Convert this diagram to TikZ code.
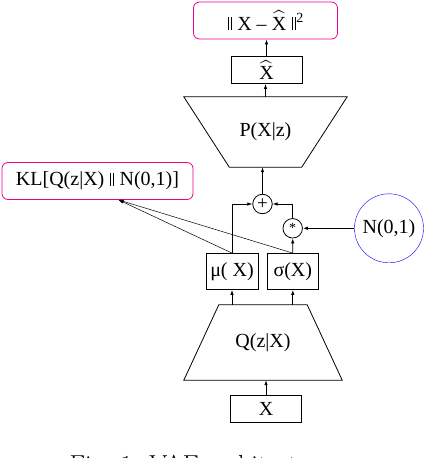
\documentclass[tikz,border=0pt]{standalone}
\usepackage{amsmath}
\usepackage{fontspec}
\setmainfont{Liberation Serif}
\newfontfamily\capfont{Latin Modern Roman}
\usetikzlibrary{arrows.meta,positioning,shapes.geometric}

\newcommand{\nrm}{\kern1pt\rule{0.7pt}{13.2pt}\kern1.8pt\rule{0.7pt}{13.2pt}\kern1pt}

\begin{document}
\begin{tikzpicture}[
x=1pt, y=1pt,
font=\fontsize{20}{23}\selectfont,
block/.style={rectangle, draw, line width=0.8pt, text centered, minimum width=71pt, minimum height=27pt, inner sep=0pt},
loss/.style={rectangle, draw=magenta, line width=0.8pt, rounded corners=6pt, minimum height=37pt, inner sep=0pt},
funnel/.style={rectangle, inner sep=0pt},
op/.style={circle, draw, line width=0.8pt, minimum size=19.5pt, inner sep=0pt},
arrow/.style={-{Latex[length=5pt,width=3.5pt]}, line width=0.8pt}
]
\useasboundingbox (0,0) rectangle (426,458);
\clip (0,0) rectangle (426,458);

% encoder
\node[block] (x) at (266,49) {X};
\node[funnel, minimum width=158pt, minimum height=75pt] (q) at (263,115.5) {Q(z|X)};
\draw[line width=0.8pt] (q.south west) -- (q.south east) -- ([xshift=-35pt]q.north east) -- ([xshift=35pt]q.north west) -- cycle;
\node[block, minimum width=52pt, minimum height=36pt] (mu) at (232,186.5) {μ( X)};
\node[block, minimum width=51pt, minimum height=36pt] (sigma) at (292.8,186.5) {σ(X)};

% sampling
\node[op, font=\fontsize{14}{14}\selectfont] (star) at (292.7,229.7) {*};
\node[op, font=\fontsize{19}{19}\selectfont] (plus) at (262.5,254) {+};
\node[circle, draw=blue, minimum size=69pt, inner sep=0pt] (noise) at (389,229.7) {N(0,1)};
\node[loss, minimum width=191pt] (kl) at (97.5,277) {KL[Q(z|X) \nrm{} N(0,1)]};

% decoder
\node[funnel, minimum width=163pt, minimum height=70pt] (p) at (265.5,326) {P(X|z)};
\draw[line width=0.8pt] (p.north west) -- (p.north east) -- ([xshift=-45.5pt]p.south east) -- ([xshift=45.5pt]p.south west) -- cycle;
\node[block] (xhat) at (266.5,388) {$\widehat{\text{X}}$};
\node[loss, minimum width=144pt] (rec) at (265.5,437.5) {\nrm{} X \textendash{} $\widehat{\text{X}}$ \nrm{}\textsuperscript{2}};

\node[font=\capfont\fontsize{26}{30}\selectfont, anchor=base west] (cap) at (66,-15) {Fig. 1: VAE architecture};

\draw[arrow] (x.north) -- (x.north |- q.south);
\draw[arrow] (mu.south |- q.north) -- (mu.south);
\draw[arrow] (sigma.south |- q.north) -- (sigma.south);
\draw[arrow] (mu.north) |- (plus.west);
\draw[arrow] (sigma.north) -- (star.south);
\draw[arrow] (star.north) |- (plus.east);
\draw[arrow, line width=1.4pt] (noise.west) -- (star.east);
\draw[arrow, line width=0.5pt] (mu.north) -- ([xshift=21pt]kl.south);
\draw[arrow, line width=0.5pt] (sigma.north) -- ([xshift=21pt]kl.south);
\draw[arrow] (plus.north) -- (plus.north |- p.south);
\draw[arrow] (p.north) -- (p.north |- xhat.south);
\draw[arrow] (xhat.north) -- (xhat.north |- rec.south);
\end{tikzpicture}
\end{document}
